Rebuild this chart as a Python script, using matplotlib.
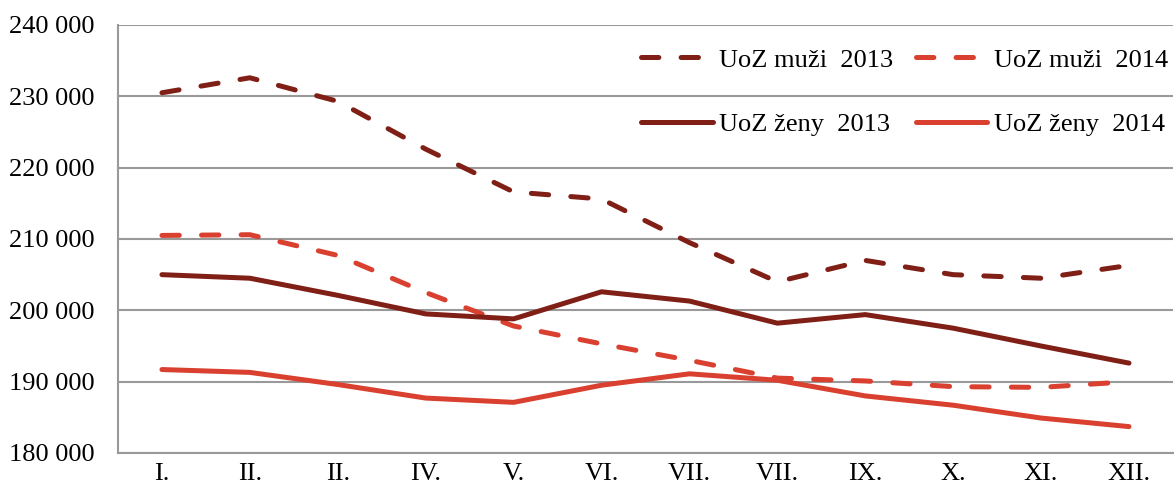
import matplotlib
matplotlib.use('Agg')
import matplotlib.pyplot as plt
from matplotlib.ticker import FuncFormatter

months = ['I.', 'II.', 'II.', 'IV.', 'V.', 'VI.', 'VII.', 'VII.', 'IX.', 'X.', 'XI.', 'XII.']

muzi_2013 = [230500, 232600, 229300, 222600, 216600, 215600, 209500, 204000, 207000, 205000, 204500, 206300]
muzi_2014 = [210500, 210600, 207700, 202500, 197800, 195300, 193000, 190500, 190100, 189300, 189200, 190000]
zeny_2013 = [205000, 204500, 202100, 199500, 198800, 202600, 201300, 198200, 199400, 197500, 195000, 192600]
zeny_2014 = [191700, 191300, 189600, 187700, 187100, 189500, 191100, 190200, 188000, 186700, 184900, 183700]

dark = '#7f1f16'
red = '#d9402f'

plt.rcParams['font.family'] = ['Liberation Serif', 'DejaVu Serif']
plt.rcParams['lines.scale_dashes'] = False

fig = plt.figure(figsize=(11.74, 4.96), dpi=100)
ax = fig.add_axes([0.1005, 0.0867, 0.8986, 0.8629])

x = range(len(months))
dash = (0, (12.5, 16))
lw = 3.6
l1, = ax.plot(x, muzi_2013, color=dark, lw=lw, linestyle=dash, dash_capstyle='round', label='UoZ muži  2013')
l2, = ax.plot(x, muzi_2014, color=red, lw=lw, linestyle=dash, dash_capstyle='round', label='UoZ muži  2014')
l3, = ax.plot(x, zeny_2013, color=dark, lw=lw, solid_capstyle='round', label='UoZ ženy  2013')
l4, = ax.plot(x, zeny_2014, color=red, lw=lw, solid_capstyle='round', label='UoZ ženy  2014')

ax.set_xlim(-0.5, 11.5)
ax.set_ylim(180000, 240000)
ax.set_yticks(range(180000, 240001, 10000))
ax.yaxis.set_major_formatter(FuncFormatter(lambda v, p: f'{int(v):,}'.replace(',', ' ')))
ax.set_xticks(list(x))
ax.set_xticklabels(months)
ax.tick_params(axis='both', length=0, labelsize=19)
ax.tick_params(axis='y', pad=17)
ax.tick_params(axis='x', pad=7)

ax.grid(axis='y', color='#999999', lw=1.5)
ax.set_axisbelow(True)
for s in ['top', 'right']:
    ax.spines[s].set_visible(False)
for s in ['left', 'bottom']:
    ax.spines[s].set_color('#999999')
    ax.spines[s].set_linewidth(1.5)

# legend fills by column, so interleave to get muži on the top row
leg = ax.legend([l1, l3, l2, l4], [l.get_label() for l in [l1, l3, l2, l4]],
                ncol=2, loc='upper right', bbox_to_anchor=(1.0, 0.958), frameon=False,
                fontsize=19, handlelength=2.7, handletextpad=0.25, columnspacing=0.85,
                labelspacing=1.55, borderaxespad=0.0, borderpad=0.2)

fig.savefig('out.png', dpi=100)
